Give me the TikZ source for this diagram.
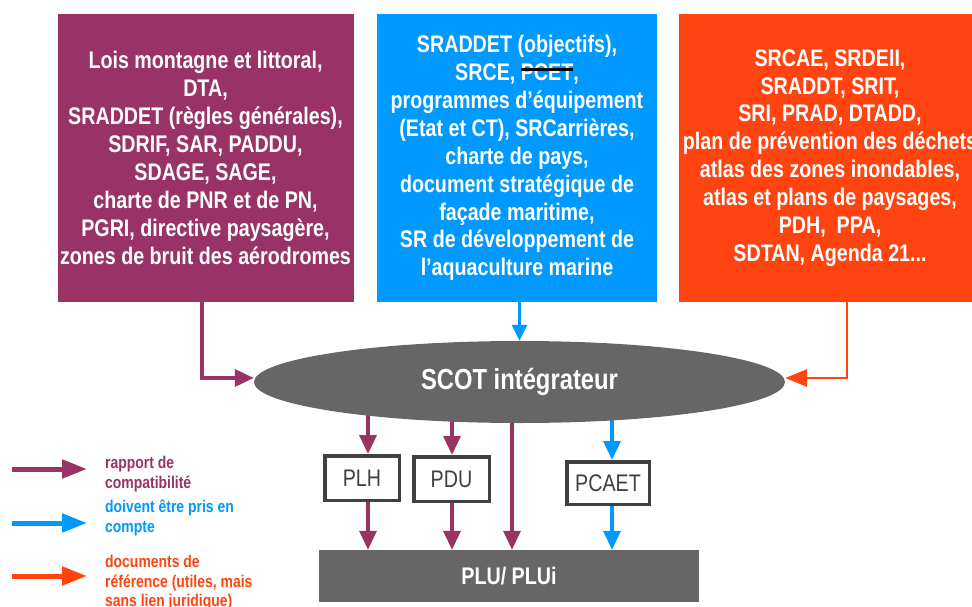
\documentclass[tikz,border=0pt]{standalone}
\usepackage{fontspec}
\setmainfont{Liberation Sans}[FakeStretch=0.82]
\usetikzlibrary{shapes.geometric,arrows.meta,calc,backgrounds}
\definecolor{cpurple}{HTML}{993366}
\definecolor{cblue}{HTML}{0099FF}
\definecolor{corange}{HTML}{FF4411}
\definecolor{cgray}{HTML}{666666}
\definecolor{cdark}{HTML}{404040}
\newsavebox\strkbox
\newcommand\mystrike[1]{\sbox\strkbox{#1}\rlap{\usebox\strkbox}\textcolor{black}{\rule[0.40em]{\wd\strkbox}{2.6pt}}}
\begin{document}
\begin{tikzpicture}[x=1pt,y=-1pt,
  bigbox/.style={rectangle, inner sep=0pt, text=white, align=center,
    minimum height=288pt, font=\bfseries\fontsize{24}{27.9}\selectfont},
  smallbox/.style={rectangle, draw=cdark, line width=3.5pt, fill=white, text=cdark,
    inner sep=0pt, font=\fontsize{24}{28}\selectfont},
  parrow/.style={draw=cpurple, line width=3.5pt, -{Triangle[length=19pt,width=17pt]}},
  barrow/.style={draw=cblue, line width=3.5pt, -{Triangle[length=19pt,width=17pt]}},
  oarrow/.style={draw=corange, line width=2.8pt, -{Triangle[length=22pt,width=17pt]}},
  legarrow/.style={line width=5pt, -{Triangle[length=25pt,width=18pt]}},
  legtext/.style={anchor=north west, inner sep=0pt, align=left,
    font=\bfseries\fontsize{17}{19.5}\selectfont}]
\useasboundingbox (0,0) rectangle (972,607);

% top boxes
\node[bigbox, fill=cpurple, minimum width=296pt] (lbox) at (205.5,158)
  {Lois montagne et littoral,\\DTA,\\SRADDET (règles générales),\\SDRIF, SAR, PADDU,\\SDAGE, SAGE,\\charte de PNR et de PN,\\PGRI, directive paysagère,\\zones de bruit des aérodromes};
\node[bigbox, fill=cblue, minimum width=280pt] (mbox) at (517,158)
  {SRADDET (objectifs),\\SRCE, \mystrike{PCET},\\programmes d’équipement\\(Etat et CT), SRCarrières,\\charte de pays,\\document stratégique de\\façade maritime,\\SR de développement de\\l’aquaculture marine};
\node[bigbox, fill=corange, minimum width=302pt] (rbox) at (830,158)
  {SRCAE, SRDEII,\\SRADDT, SRIT,\\SRI, PRAD, DTADD,\\plan de prévention des déchets\\atlas des zones inondables,\\atlas et plans de paysages,\\PDH,\ \ PPA,\\SDTAN, Agenda 21...};

% SCOT ellipse
\node[ellipse, fill=cgray, inner sep=0pt, minimum width=531pt, minimum height=82pt,
  text=white, font=\bfseries\fontsize{29}{32}\selectfont] (scot) at (519.5,382) {SCOT intégrateur};

% lower boxes
\node[smallbox, minimum width=74.5pt, minimum height=44.5pt] (plh) at (362,478) {PLH};
\node[smallbox, minimum width=75.5pt, minimum height=44.5pt] (pdu) at (451.5,479) {PDU};
\node[smallbox, minimum width=82.5pt, minimum height=42.5pt] (pcaet) at (608,483) {PCAET};
\node[rectangle, fill=cgray, inner sep=0pt, minimum width=380pt, minimum height=52pt,
  text=white, font=\bfseries\fontsize{24}{28}\selectfont] (plu) at (509,576) {PLU/ PLUi};

% arrows into SCOT
\draw[parrow] ([xshift=-3.5pt]lbox.south) |- ([yshift=4pt]scot.west);
\draw[barrow, line width=2.8pt, -{Triangle[length=16pt,width=15pt]}] (scot.north |- mbox.south) -- (scot.north);
\draw[oarrow] ([xshift=17pt]rbox.south) |- ([yshift=4pt]scot.east);

% arrows out of SCOT
\coordinate (aPLH) at ($(plh.north)+(6,0)$);
\coordinate (aPDU) at ($(pdu.north)+(0.5,0)$);
\coordinate (aMID) at ($(plu.north)+(3,0)$);
\coordinate (aPC) at ($(pcaet.north)+(4,0)$);
\begin{scope}[on background layer]
  \draw[parrow] (aPLH |- scot.center) -- (aPLH);
  \draw[parrow] (aPDU |- scot.center) -- (aPDU);
  \draw[parrow] (aMID |- scot.center) -- (aMID);
  \draw[barrow] (aPC |- scot.center) -- (aPC);
\end{scope}
\draw[parrow] (plh.south -| aPLH) -- (plu.north -| aPLH);
\draw[parrow] (pdu.south -| aPDU) -- (plu.north -| aPDU);
\draw[barrow] (pcaet.south -| aPC) -- (plu.north -| aPC);

% legend
\coordinate (l1s) at (12,469); \coordinate (l1e) at (87,469);
\coordinate (l2s) at (12,523); \coordinate (l2e) at (87,523);
\coordinate (l3s) at (12,576); \coordinate (l3e) at (87,576);
\draw[legarrow, draw=cpurple] (l1s) -- (l1e);
\draw[legarrow, draw=cblue] (l2s) -- (l2e);
\draw[legarrow, draw=corange] (l3s) -- (l3e);
\node[legtext, text=cpurple] (t1) at (105,456) {rapport de\\compatibilité};
\node[legtext, text=cblue] (t2) at (105,500) {doivent être pris en\\compte};
\node[legtext, text=corange] (t3) at (105,555) {documents de\\référence (utiles, mais\\sans lien juridique)};
\end{tikzpicture}
\end{document}
